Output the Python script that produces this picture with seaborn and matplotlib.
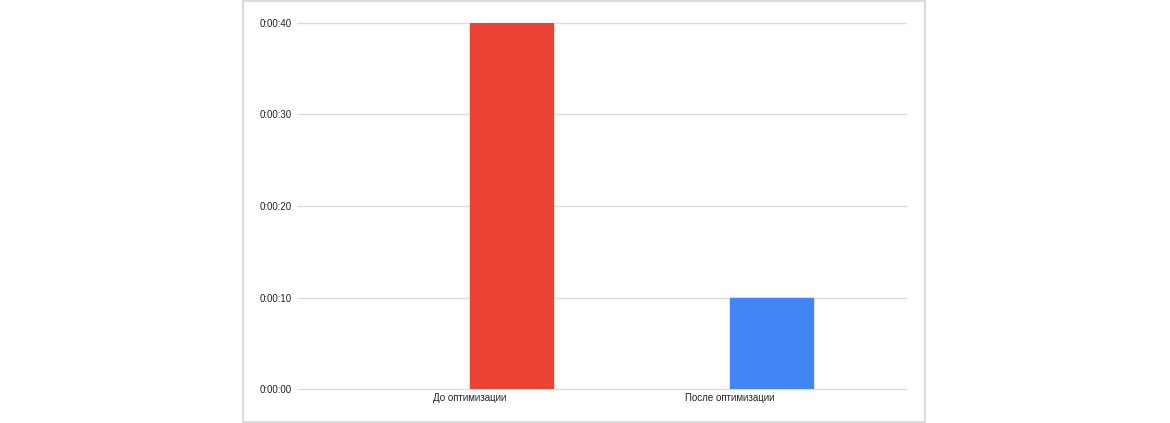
import matplotlib
matplotlib.use("Agg")
import matplotlib.pyplot as plt
import seaborn as sns
import pandas as pd
from matplotlib.patches import Rectangle
from matplotlib.ticker import FuncFormatter, MultipleLocator

categories = ["До оптимизации", "После оптимизации"]
seconds = [40, 10]
colors = ["#EA4335", "#4285F4"]
# sheets chart has an empty first series, the bars sit in the second slot
series_order = ["(пусто)", "Время"]

sns.set_theme(style="white")
plt.rcParams['font.family'] = ['Liberation Sans', 'DejaVu Sans']

df = pd.DataFrame({"stage": categories, "time": seconds, "series": "Время"})

fig = plt.figure(figsize=(11.7, 4.23), dpi=100)
ax = fig.add_axes([297/1170, 1-389/423, (906-297)/1170, (389-23)/423])

sns.barplot(data=df, x="stage", y="time", hue="series", hue_order=series_order,
            palette=["#999999", "#4285F4"], dodge=True, width=0.64,
            legend=False, ax=ax, saturation=1)
for p, c in zip(ax.patches, colors):
    p.set_facecolor(c)
    p.set_edgecolor(c)

ax.set_xlim(-0.665, 1.677)
ax.set_ylim(0, 40)
ax.yaxis.set_major_locator(MultipleLocator(10))
ax.yaxis.set_major_formatter(FuncFormatter(lambda v, p: "0:00:{:02d}".format(int(v))))
ax.grid(axis="y", color="#dddddd", linewidth=1)
for gl in ax.get_ygridlines():
    gl.set_clip_on(False)
ax.set_axisbelow(True)
for s in ax.spines.values():
    s.set_visible(False)
ax.tick_params(axis="both", length=0, labelsize=7, colors="#222222")
ax.tick_params(axis="y", pad=4)
ax.tick_params(axis="x", pad=3)
ax.set_xlabel("")
ax.set_ylabel("")

# chart frame
fig.add_artist(Rectangle((243/1170, 1/423), (925-243)/1170, 421/423,
                         transform=fig.transFigure, fill=False,
                         edgecolor="#dcdcdc", linewidth=1.5))

plt.savefig("out.png", dpi=100)
